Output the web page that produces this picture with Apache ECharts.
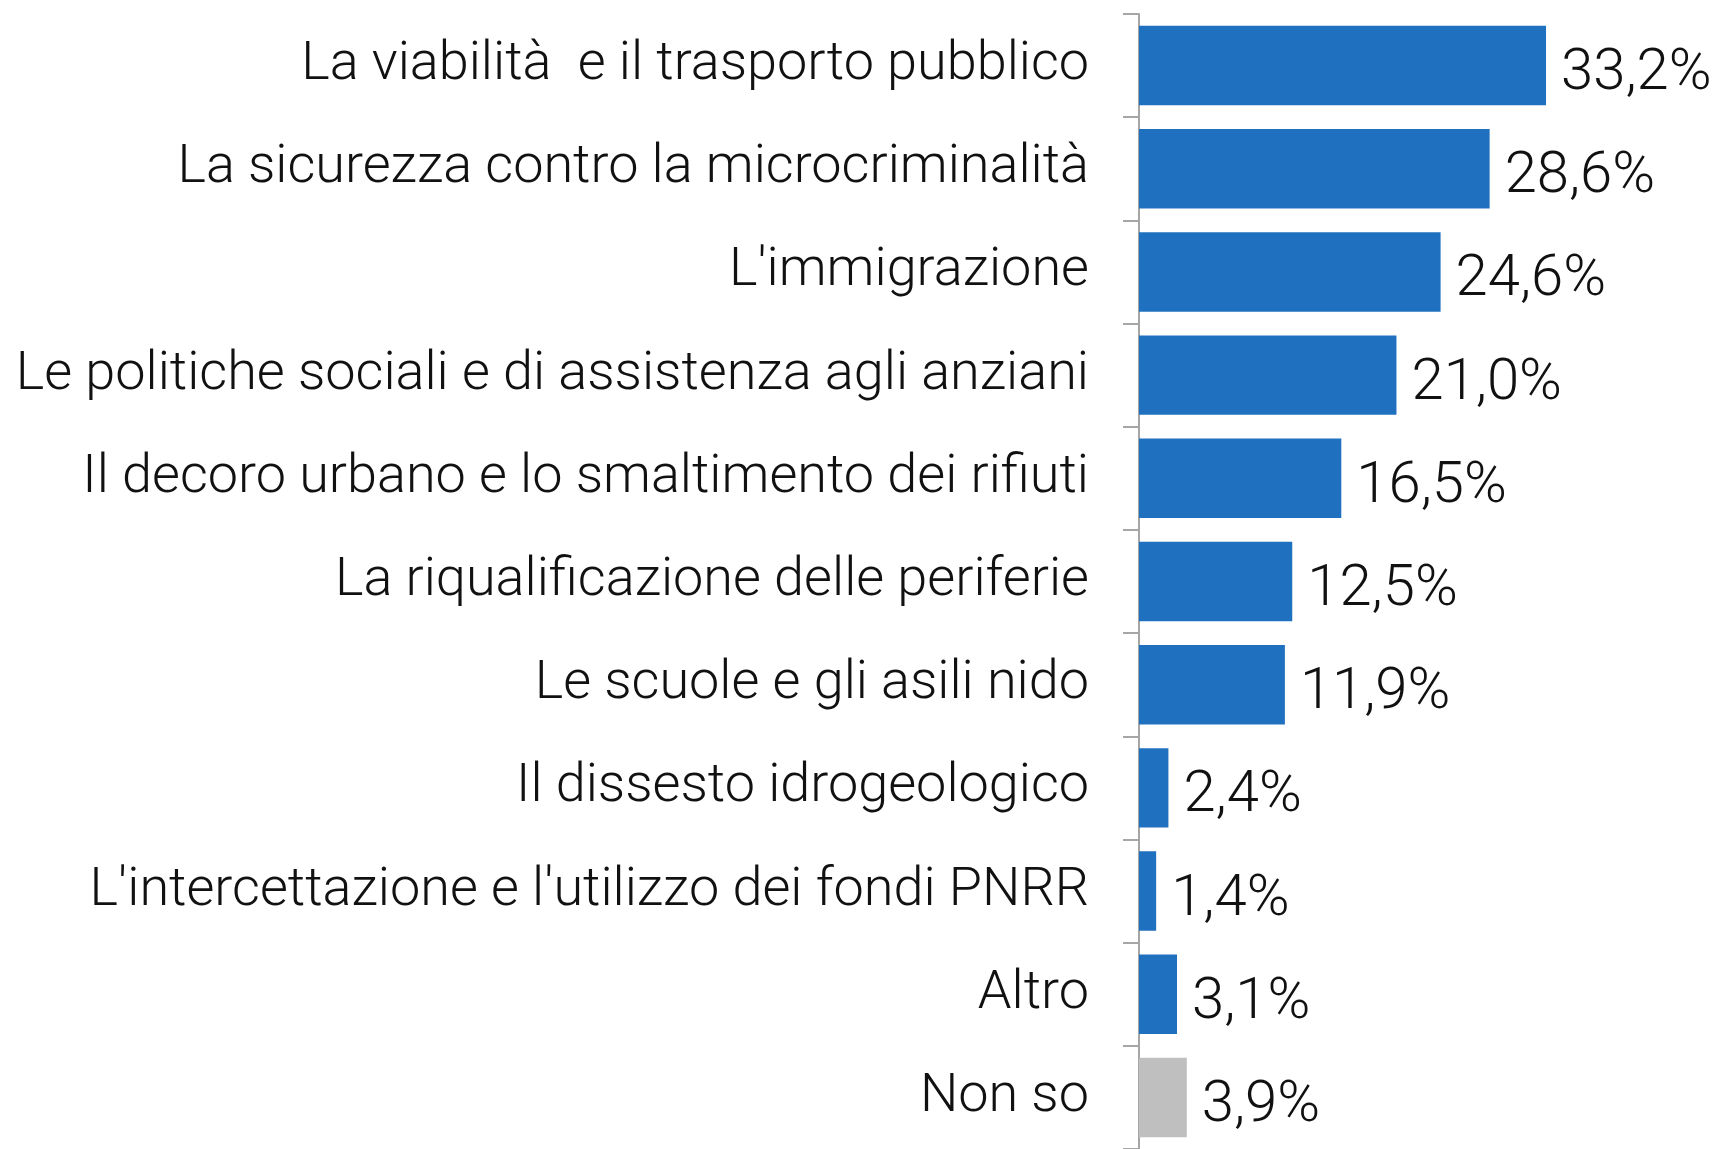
<!DOCTYPE html>
<html><head><meta charset="utf-8">
<script src="https://cdn.jsdelivr.net/npm/echarts@6/dist/echarts.min.js"></script>
<style>html,body{margin:0;padding:0;background:#fff}#c{width:1723px;height:1149px}</style>
</head><body><div id="c"></div>
<script>
const categories = [
  "La viabilità  e il trasporto pubblico",
  "La sicurezza contro la microcriminalità",
  "L'immigrazione",
  "Le politiche sociali e di assistenza agli anziani",
  "Il decoro urbano e lo smaltimento dei rifiuti",
  "La riqualificazione delle periferie",
  "Le scuole e gli asili nido",
  "Il dissesto idrogeologico",
  "L'intercettazione e l'utilizzo dei fondi PNRR",
  "Altro",
  "Non so"
];
const values = [33.2, 28.6, 24.6, 21.0, 16.5, 12.5, 11.9, 2.4, 1.4, 3.1, 3.9];
const barColors = ["#2070C0","#2070C0","#2070C0","#2070C0","#2070C0","#2070C0","#2070C0","#2070C0","#2070C0","#2070C0","#BFBFBF"];

const FONT = "Roboto";
const chart = echarts.init(document.getElementById('c'), null, {renderer:'canvas'});
chart.setOption({
  animation:false,
  grid:{left:1139, top:14, width:490.4, height:1142, containLabel:false},
  xAxis:{type:'value', min:0, max:40, show:false},
  yAxis:{
    type:'category', data:categories, inverse:true,
    axisLine:{show:true, lineStyle:{color:'#A6A6A6', width:2}},
    axisTick:{show:true, length:16, lineStyle:{color:'#A6A6A6', width:2}},
    axisLabel:{margin:50, color:'#111', fontFamily:FONT, fontWeight:300, fontSize:54}
  },
  series:[{
    type:'bar',
    data:values.map((v,i)=>({value:v, itemStyle:{color:barColors[i]}})),
    barCategoryGap:'23%',
    label:{show:true, position:'right', distance:15, color:'#111', fontFamily:FONT, fontWeight:300, fontSize:58,
      offset:[0,9],
      formatter:p=>p.value.toFixed(1).replace('.',',')+'%'}
  }]
});
</script></body></html>
